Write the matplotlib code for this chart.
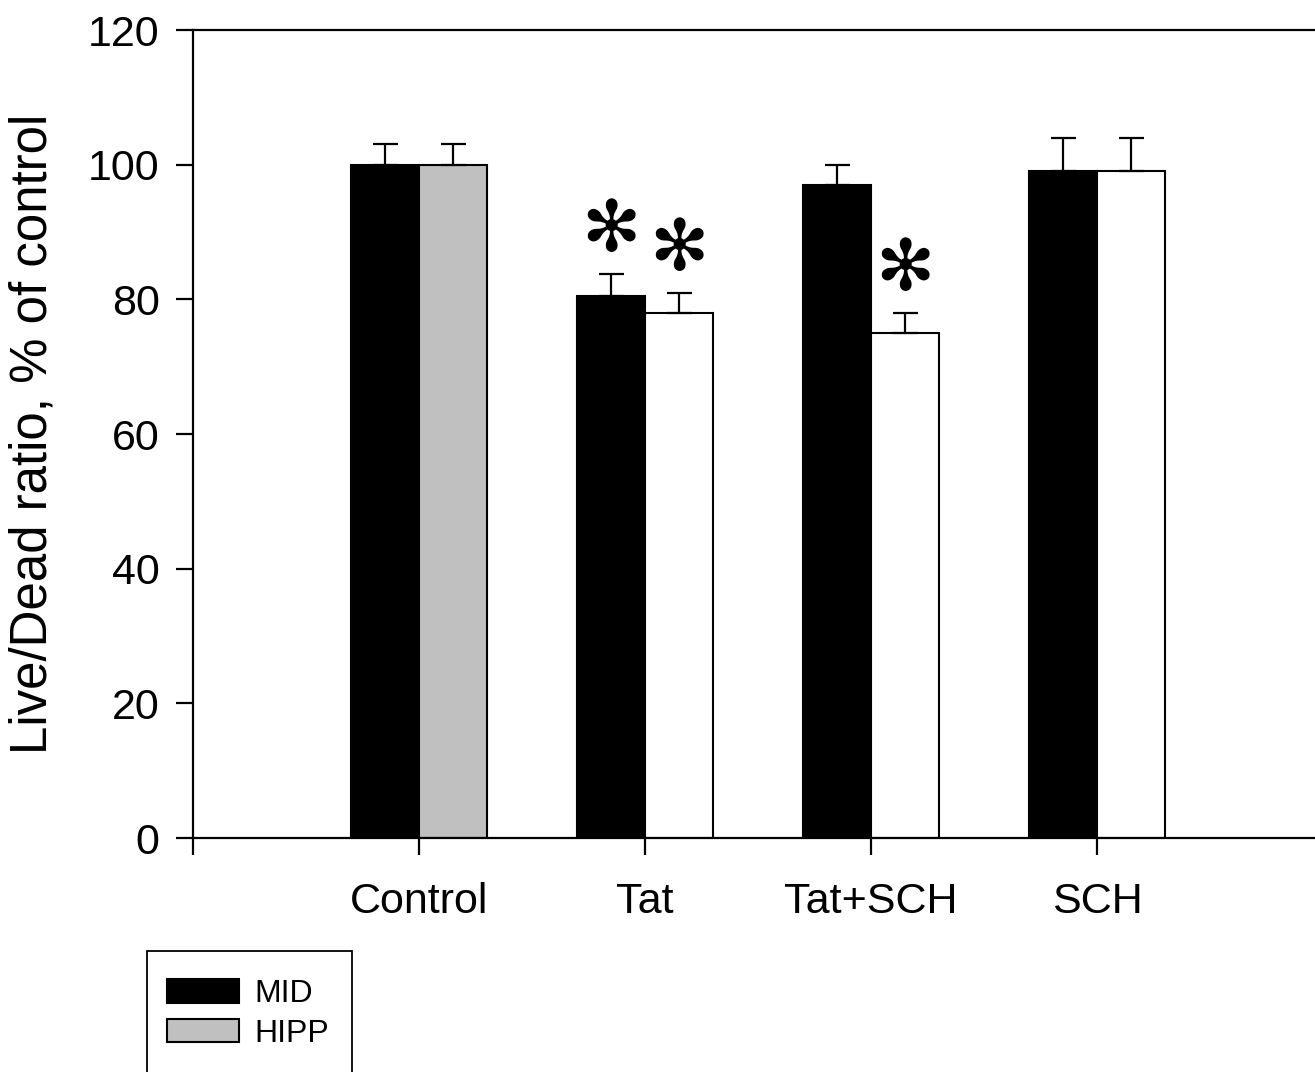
import numpy as np
import matplotlib.pyplot as plt
from matplotlib.patches import Patch, Rectangle

plt.rcParams['font.family'] = ['Liberation Sans', 'DejaVu Sans']

groups = ['Control', 'Tat', 'Tat+SCH', 'SCH']
mid_vals = [100, 80.5, 97, 99]
mid_err = [3, 3.2, 3, 5]
hipp_vals = [100, 78, 75, 99]
hipp_err = [3, 3, 3, 5]
hipp_colors = ['#c0c0c0', 'white', 'white', 'white']
# significance marks: (group index, series 0=MID / 1=HIPP)
stars = [(1, 0), (1, 1), (2, 1)]

fig = plt.figure(figsize=(13.15, 10.72), dpi=100)
ax = fig.add_axes([193 / 1315, 1 - 838 / 1072, 1130 / 1315, 808 / 1072])

x = np.arange(1, len(groups) + 1)
w = 0.3
err_kw = dict(ecolor='black', elinewidth=1.6, capthick=1.6, capsize=9)

ax.bar(x - w / 2, mid_vals, w, color='black', edgecolor='black', linewidth=1.5,
       yerr=[np.zeros(4), mid_err], error_kw=err_kw, zorder=2)
ax.bar(x + w / 2, hipp_vals, w, color=hipp_colors, edgecolor='black', linewidth=1.5,
       yerr=[np.zeros(4), hipp_err], error_kw=err_kw, zorder=2)

for gi, si in stars:
    if si == 0:
        xs, top = x[gi] - w / 2, mid_vals[gi] + mid_err[gi]
    else:
        xs, top = x[gi] + w / 2, hipp_vals[gi] + hipp_err[gi]
    ax.text(xs, top + 6.3, '\u273B', ha='center', va='center', fontsize=51,
            family='DejaVu Sans')

ax.set_xlim(0, 5)
ax.set_ylim(0, 120)
ax.set_yticks(range(0, 121, 20))
ax.set_xticks([0, 1, 2, 3, 4])
ax.set_xticklabels([''] + groups)
ax.spines['right'].set_visible(False)
for s in ['left', 'top', 'bottom']:
    ax.spines[s].set_linewidth(1.6)
ax.tick_params(axis='both', direction='out', length=12, width=1.6,
               labelsize=31, pad=12)
ax.tick_params(axis='x', pad=20)

fig.text(33 / 1315, 1 - 434 / 1072, 'Live/Dead ratio, % of control',
         rotation=90, ha='center', va='center', fontsize=36.7)

# legend frame runs off the bottom edge, as in the original
fig.add_artist(Rectangle((147 / 1315, -0.02), 205 / 1315, 0.02 + 121 / 1072,
                         transform=fig.transFigure, fill=False,
                         edgecolor='black', linewidth=1.3))
handles = [Patch(facecolor='black', edgecolor='black', linewidth=1.5),
           Patch(facecolor='#c0c0c0', edgecolor='black', linewidth=1.5)]
leg = fig.legend(handles, ['MID', 'HIPP'], loc='upper left',
                 bbox_to_anchor=(167 / 1315, 1 - 979 / 1072), borderaxespad=0,
                 fontsize=23, handlelength=2.25, handleheight=0.75,
                 labelspacing=0.3, borderpad=0, handletextpad=0.5,
                 frameon=False)

fig.savefig('out.png', dpi=100)
